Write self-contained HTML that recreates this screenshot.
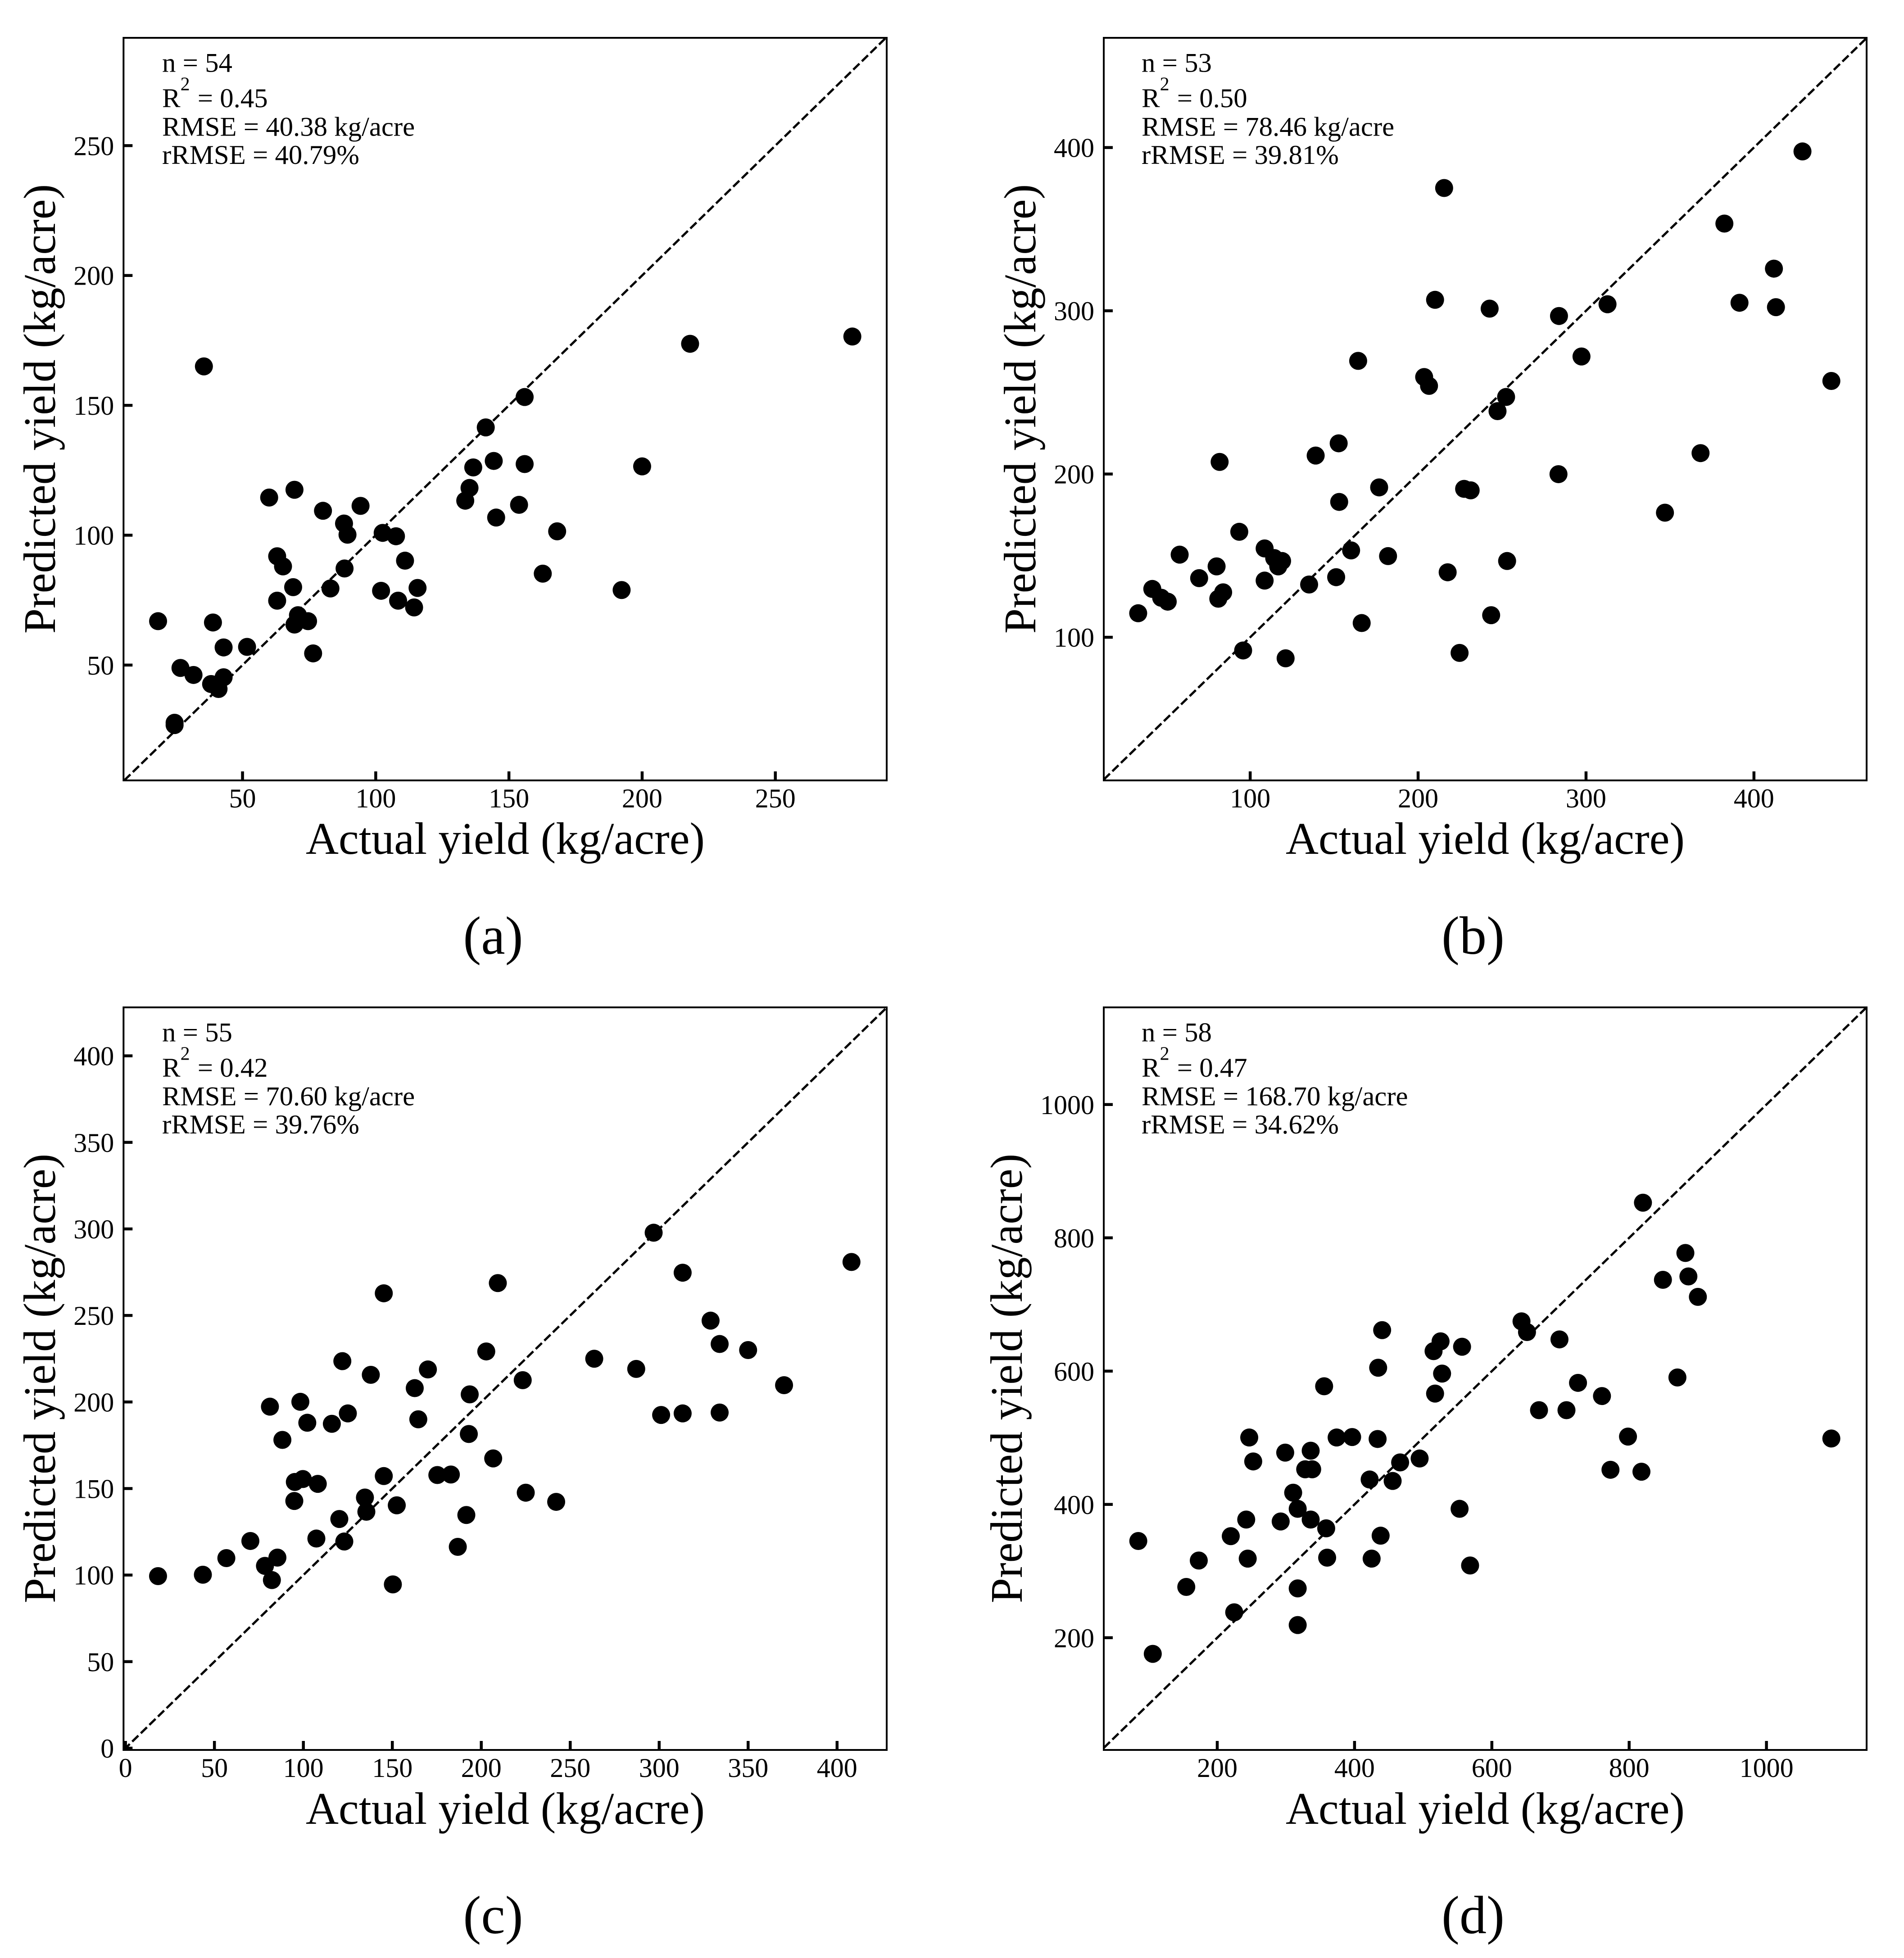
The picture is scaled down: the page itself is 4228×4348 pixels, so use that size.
<!DOCTYPE html>
<html lang="en">
<head>
<meta charset="utf-8">
<title>Predicted vs actual yield</title>
<style>
html,body{margin:0;padding:0;background:#fff}
svg{display:block}
text{font-family:"Liberation Serif",serif;fill:#000}
.stat{font-size:60.8px}
.sup{font-size:42px}
.axis-title{font-size:101px}
.panel-label{font-size:120px}
.tick-label{font-size:60px}
</style>
</head>
<body>
<svg id="figure" xmlns="http://www.w3.org/2000/svg" width="4228" height="4348" viewBox="0 0 4228 4348">
  <rect x="0" y="0" width="4228" height="4348" fill="#fff"/>

  <g id="panel-a"></g>
  <g id="panel-b"></g>
  <g id="panel-c"></g>
  <g id="panel-d"></g>

  <g class="stat">
    <text x="360" y="159.5">n = 54</text>
    <text x="360" y="238">R<tspan class="sup" dy="-37.5">2</tspan><tspan dy="37.5" dx="2"> = 0.45</tspan></text>
    <text x="360" y="301.5">RMSE = 40.38 kg/acre</text>
    <text x="360" y="364">rRMSE = 40.79%</text>
  </g>
  <g class="stat">
    <text x="2535" y="159.5">n = 53</text>
    <text x="2535" y="238">R<tspan class="sup" dy="-37.5">2</tspan><tspan dy="37.5" dx="2"> = 0.50</tspan></text>
    <text x="2535" y="301.5">RMSE = 78.46 kg/acre</text>
    <text x="2535" y="364">rRMSE = 39.81%</text>
  </g>
  <g class="stat">
    <text x="360" y="2312.5">n = 55</text>
    <text x="360" y="2391">R<tspan class="sup" dy="-37.5">2</tspan><tspan dy="37.5" dx="2"> = 0.42</tspan></text>
    <text x="360" y="2454.5">RMSE = 70.60 kg/acre</text>
    <text x="360" y="2517">rRMSE = 39.76%</text>
  </g>
  <g class="stat">
    <text x="2535" y="2312.5">n = 58</text>
    <text x="2535" y="2391">R<tspan class="sup" dy="-37.5">2</tspan><tspan dy="37.5" dx="2"> = 0.47</tspan></text>
    <text x="2535" y="2454.5">RMSE = 168.70 kg/acre</text>
    <text x="2535" y="2517">rRMSE = 34.62%</text>
  </g>

  <text class="axis-title" text-anchor="middle" x="1122" y="1896">Actual yield (kg/acre)</text>
  <text class="axis-title" text-anchor="middle" x="3298" y="1896">Actual yield (kg/acre)</text>
  <text class="axis-title" text-anchor="middle" x="1122" y="4050">Actual yield (kg/acre)</text>
  <text class="axis-title" text-anchor="middle" x="3298" y="4050">Actual yield (kg/acre)</text>

  <text class="axis-title" text-anchor="middle" transform="translate(122 908) rotate(-90)">Predicted yield (kg/acre)</text>
  <text class="axis-title" text-anchor="middle" transform="translate(2299 908) rotate(-90)">Predicted yield (kg/acre)</text>
  <text class="axis-title" text-anchor="middle" transform="translate(122 3061) rotate(-90)">Predicted yield (kg/acre)</text>
  <text class="axis-title" text-anchor="middle" transform="translate(2269 3061) rotate(-90)">Predicted yield (kg/acre)</text>

  <text class="panel-label" text-anchor="middle" x="1095" y="2118">(a)</text>
  <text class="panel-label" text-anchor="middle" x="3271" y="2118">(b)</text>
  <text class="panel-label" text-anchor="middle" x="1095" y="4293">(c)</text>
  <text class="panel-label" text-anchor="middle" x="3271" y="4293">(d)</text>
</svg>

<script>
const xLimA = [5.33, 291.8];
const yLimA = [5.6, 291.5];
const xTicksA = [50, 100, 150, 200, 250];
const yTicksA = [50, 100, 150, 200, 250];
const actualA = [18.3,26.7,31.6,24.5,24.5,35.5,38.9,38.2,41,42.9,42.9,51.7,60,69.5,63,65.2,63,69,70.8,69.5,74.6,76.5,80.2,83,94.3,88.1,89.4,88.3,102.6,107.6,111,102,108.4,114.4,115.7,133.6,135.2,136.6,141.3,144.3,145.2,153.8,155.9,155.9,168.1,162.7,192.3,200,218,278.9];
const predictedA = [66.9,48.9,46.2,27.8,26.9,165,66.4,42.7,40.8,45.3,56.8,57,114.5,117.5,91.9,88,74.8,80,69.2,65.6,66.9,54.5,109.4,79.5,111.3,104.5,100.2,87.2,100.9,99.6,90.2,78.6,74.8,72.2,79.7,113.3,118.2,126.1,141.5,128.6,106.8,111.7,127.4,153.2,101.5,85.2,78.9,126.5,173.7,176.5];

const xLimB = [12.8, 467.1];
const yLimB = [12.3, 467.2];
const xTicksB = [100, 200, 300, 400];
const yTicksB = [100, 200, 300, 400];
const actualB = [33.3,41.7,47,50.9,58,69.6,80,81.8,81,83.9,93.5,95.8,108.6,108.6,114.3,116.7,119,121.1,135.1,139,152.7,151.2,153,160.1,164.3,166.4,176.8,182.1,203.6,206.5,210.1,215.5,217.6,224.7,227.4,231.3,242.6,243.5,247.3,252.4,253,283.9,283.6,297.3,312.8,347,368.2,382.4,391.4,411.9,413.1,428.9,446.1];
const predictedB = [114.7,129.6,124.2,121.8,150.6,136.2,143.4,207.4,123.6,127.5,164.6,91.9,154.4,134.7,148.5,143.4,146.7,87.1,132.3,211.3,218.8,136.8,182.9,153.2,269.3,108.7,191.8,149.7,259.4,254,306.7,375.2,139.8,90.4,190.9,190,301.3,113.5,238.5,247.2,146.7,296.8,199.9,272,304,176.3,212.8,353.4,304.9,325.8,302.2,397.6,257];

const xLimC = [-1.1, 427.9];
const yLimC = [-1.04, 428];
const xTicksC = [0, 50, 100, 150, 200, 250, 300, 350, 400];
const yTicksC = [0, 50, 100, 150, 200, 250, 300, 350, 400];
const actualC = [18.3,43.5,56.7,70.2,78.4,85.4,82.3,81.2,88.2,94.9,95.2,99.7,98.3,102.2,108.1,107.3,116,120.2,121.9,123,125,134.6,135.4,137.9,145.2,145.2,150.3,152.5,162.6,164.6,170,175.3,182.9,186.8,191.6,193,193.5,202.8,206.7,209.3,223.3,225,242.1,263.5,287.1,296.9,301.1,313.2,313.2,328.9,334,334,350,370.2,408.1];
const predictedC = [99.4,100.2,109.8,119.7,105.3,110.1,97.1,197.3,178.1,142.8,153.8,155.5,200.1,188,152.7,121.1,187.4,132.4,223.6,119.4,193.4,144.8,136.6,215.7,262.8,157.2,94.6,140.3,208,190,218.8,157.8,158.1,116.3,134.7,181.5,204.4,229.2,167.4,268.7,212.6,147.6,142.3,225,219.1,297.8,192.5,274.7,193.4,247,233.5,193.9,230,209.7,280.9];

const xLimD = [34.7, 1145.9];
const yLimD = [31.6, 1145.8];
const xTicksD = [200, 400, 600, 800, 1000];
const yTicksD = [200, 400, 600, 800, 1000];
const actualD = [85,106.1,154.9,173.1,219.7,224.7,242.2,244.4,246.6,252.4,292.4,299,310.6,317.2,317.2,317.2,328.1,338.3,336.1,336.1,355.7,358.7,360.1,373.9,396.5,422,424.9,433.6,434.4,438,440.2,455.5,466.4,494.8,515.1,517.3,525.3,527.5,553,556.6,568.3,643.2,651.2,668.7,698.5,708.7,725.5,760.4,772.8,798.3,817.9,820.1,849.2,870.3,881.9,886.3,900.1,1094.5];
const predictedD = [345.1,175.8,276.2,315.8,352.4,238.1,377.3,318.7,500.4,464.5,374.4,477.7,417.6,393.4,274,219,452.7,452.7,480.6,377.3,577.3,364.1,320.1,500.4,501.1,437.4,318.7,498.2,605.1,353.1,661.5,435.2,463,468.9,630,566.3,644.7,596.3,393.4,636.6,308.4,674.7,658.6,541.4,647.6,541.4,582.4,562.6,452,501.8,449.1,852.7,737,590.5,777.3,742.1,711.4,498.9];

const SVG_NS = 'http://www.w3.org/2000/svg';

function shape(parent, tag, attrs) {
  const el = document.createElementNS(SVG_NS, tag);
  for (const k in attrs) el.setAttribute(k, attrs[k]);
  parent.appendChild(el);
  return el;
}

function linearScale(domain, r0, r1) {
  return function (v) {
    return r0 + (v - domain[0]) / (domain[1] - domain[0]) * (r1 - r0);
  };
}

function drawPanel(id, left, right, top, bottom, xLim, yLim, xTicks, yTicks, actual, predicted) {
  const g = document.getElementById(id);
  const sx = linearScale(xLim, left, right);
  const sy = linearScale(yLim, bottom, top);

  const v0 = Math.max(xLim[0], yLim[0]);
  const v1 = Math.min(xLim[1], yLim[1]);
  const diag = shape(g, 'line', {
    x1: sx(v0), y1: sy(v0), x2: sx(v1), y2: sy(v1),
    stroke: '#000', 'stroke-width': 5, 'stroke-dasharray': '19 7.6'
  });
  
  

  xTicks.forEach(function (t) {
    const tick = shape(g, 'line', {
      x1: sx(t), x2: sx(t), y1: bottom, y2: bottom - 20,
      stroke: '#000', 'stroke-width': 6.5
    });
    
    
    const label = shape(g, 'text', {
      x: sx(t), y: bottom + 60, 'text-anchor': 'middle', 'class': 'tick-label'
    });
    
    
    label.textContent = t;
  });

  yTicks.forEach(function (t) {
    const tick = shape(g, 'line', {
      x1: left, x2: left + 20, y1: sy(t), y2: sy(t),
      stroke: '#000', 'stroke-width': 6.5
    });
    
    
    const label = shape(g, 'text', {
      x: left - 21, y: sy(t) + 21, 'text-anchor': 'end', 'class': 'tick-label'
    });
    
    
    label.textContent = t;
  });

  actual.forEach(function (a, i) {
    const dot = shape(g, 'circle', {
      cx: sx(a), cy: sy(predicted[i]), r: 20, fill: '#000'
    });
    
    
  });

  const frame = shape(g, 'rect', {
    x: left, y: top, width: right - left, height: bottom - top,
    fill: 'none', stroke: '#000', 'stroke-width': 4
  });
  
  
}

drawPanel('panel-a', 274.3, 1969, 84, 1733, xLimA, yLimA, xTicksA, yTicksA, actualA, predictedA);
drawPanel('panel-b', 2451, 4145, 84, 1733, xLimB, yLimB, xTicksB, yTicksB, actualB, predictedB);
drawPanel('panel-c', 274.3, 1969, 2237, 3886, xLimC, yLimC, xTicksC, yTicksC, actualC, predictedC);
drawPanel('panel-d', 2451, 4145, 2237, 3886, xLimD, yLimD, xTicksD, yTicksD, actualD, predictedD);
</script>
</body>
</html>
